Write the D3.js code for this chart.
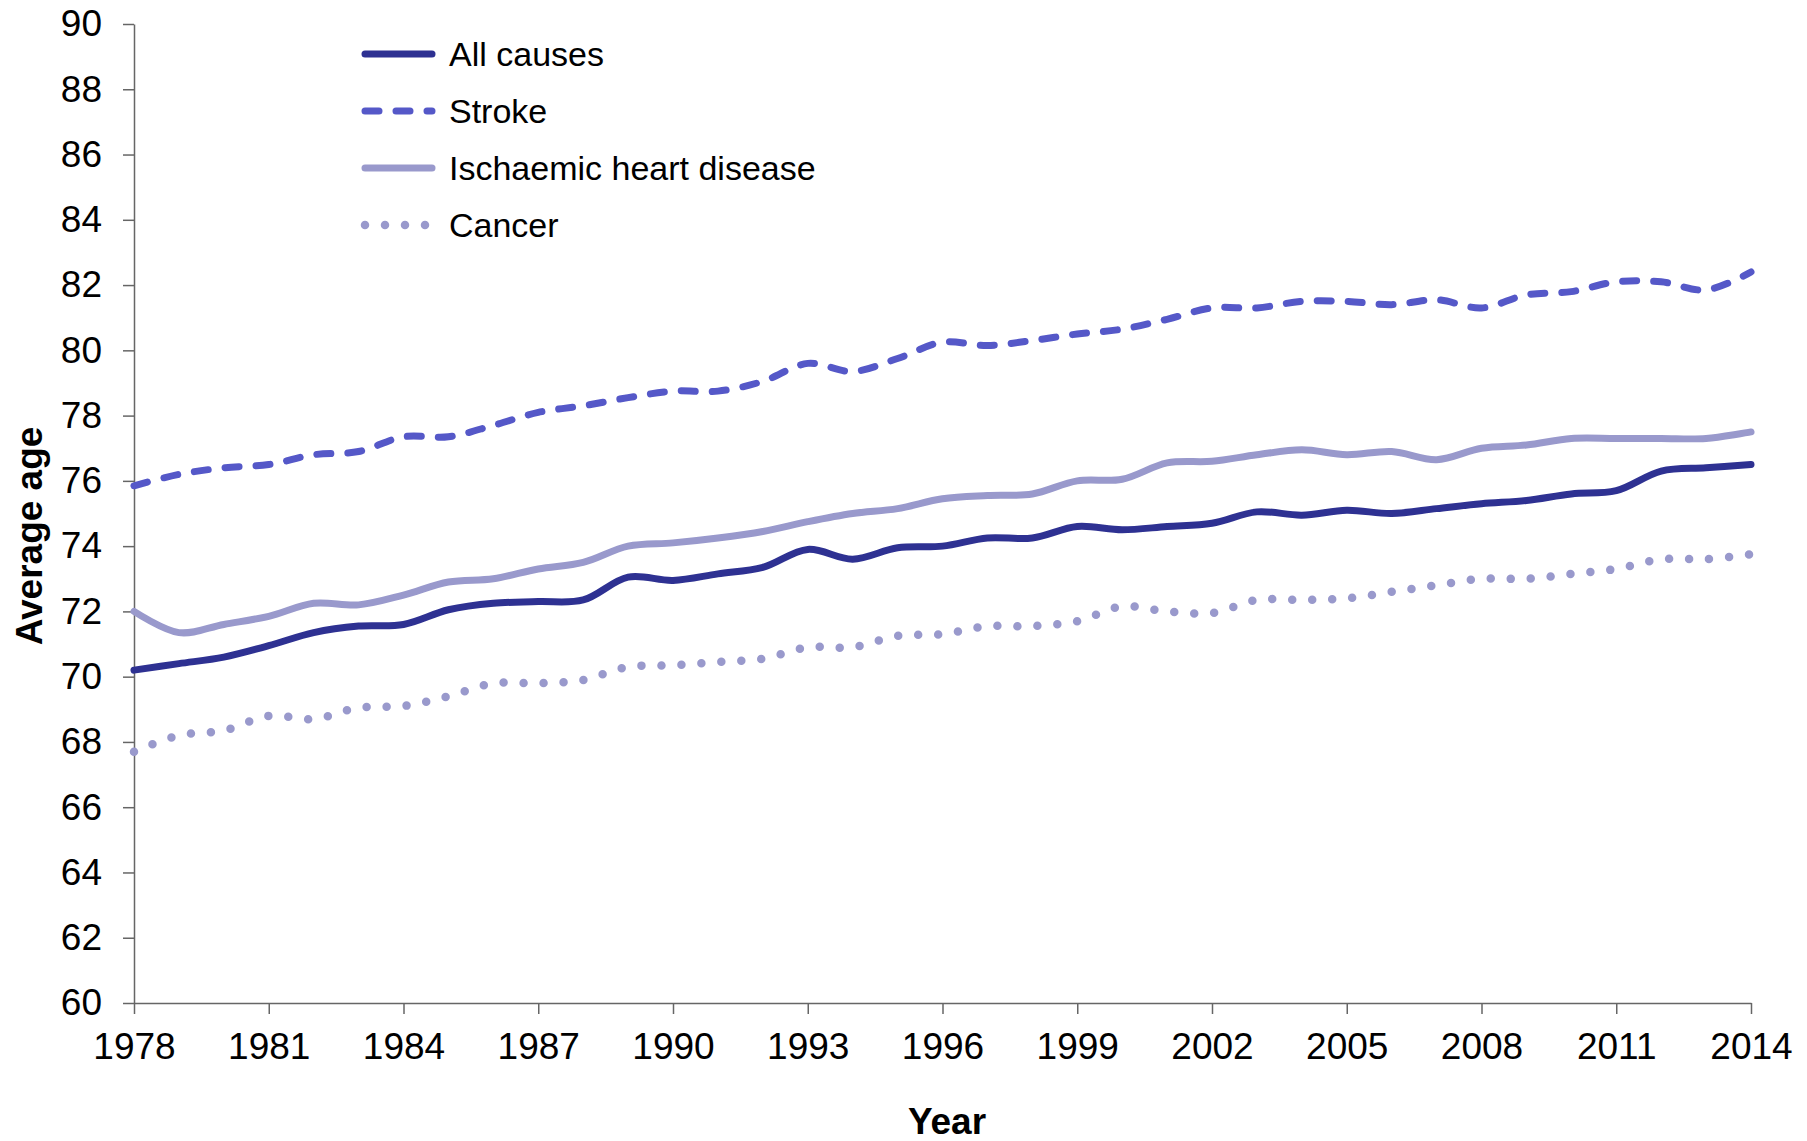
<!DOCTYPE html>
<html>
<head>
<meta charset="utf-8">
<script src="https://cdn.jsdelivr.net/npm/d3@7"></script>
<style>
  body { margin: 0; background: #fff; }
  svg text { font-family: "Liberation Sans", Arial, sans-serif; fill: #000; }
</style>
</head>
<body>
<svg id="chart" width="1807" height="1141"></svg>
<script>
// years on the x axis
var years = d3.range(1978, 2015);

// average age at death
var allCauses = [70.2, 70.4, 70.6, 70.95, 71.35, 71.55, 71.6, 72.05, 72.25, 72.3, 72.35, 73.05, 72.95, 73.15, 73.35, 73.9, 73.6, 73.95, 74.0, 74.25, 74.25, 74.6, 74.5, 74.6, 74.7, 75.05, 74.95, 75.1, 75.0, 75.15, 75.3, 75.4, 75.6, 75.7, 76.3, 76.4, 76.5];
var stroke = [75.85, 76.2, 76.4, 76.5, 76.8, 76.9, 77.35, 77.35, 77.7, 78.1, 78.3, 78.55, 78.75, 78.75, 79.05, 79.6, 79.35, 79.75, 80.25, 80.15, 80.3, 80.5, 80.65, 80.95, 81.3, 81.3, 81.5, 81.5, 81.4, 81.55, 81.3, 81.7, 81.8, 82.1, 82.1, 81.85, 82.4];
var ischaemic = [72.0, 71.35, 71.6, 71.85, 72.25, 72.2, 72.5, 72.9, 73.0, 73.3, 73.5, 74.0, 74.1, 74.25, 74.45, 74.75, 75.0, 75.15, 75.45, 75.55, 75.6, 76.0, 76.05, 76.55, 76.6, 76.8, 76.95, 76.8, 76.9, 76.65, 77.0, 77.1, 77.3, 77.3, 77.3, 77.3, 77.5];
var cancer = [67.7, 68.2, 68.35, 68.8, 68.7, 69.05, 69.1, 69.4, 69.8, 69.8, 69.9, 70.3, 70.35, 70.45, 70.55, 70.9, 70.9, 71.25, 71.3, 71.55, 71.55, 71.7, 72.15, 72.0, 71.95, 72.35, 72.35, 72.4, 72.6, 72.8, 73.0, 73.0, 73.15, 73.3, 73.6, 73.6, 73.75];

var xTicks = d3.range(1978, 2015, 3);
var yTicks = d3.range(60, 91, 2);

var seriesNames = ["All causes", "Stroke", "Ischaemic heart disease", "Cancer"];

var series = [
    { name: seriesNames[0], values: allCauses, color: "#2e3192", width: 7, dash: null },
    { name: seriesNames[1], values: stroke, color: "#5558c8", width: 7, dash: "14,17" },
    { name: seriesNames[2], values: ischaemic, color: "#9999cc", width: 7, dash: null },
    { name: seriesNames[3], values: cancer, color: "#9999cc", width: 8.5, dash: "0,20" }
];

var margin = { left: 134, top: 24, right: 56, bottom: 138 };
var width = 1807 - margin.left - margin.right,
    height = 1141 - margin.top - margin.bottom;

var svg = d3.select("#chart");
var g = svg.append("g").attr("transform", "translate(" + margin.left + "," + margin.top + ")");

var xScale = d3.scaleLinear().domain([1978, 2014]).range([0, width]);
var yScale = d3.scaleLinear().domain([60, 90]).range([height, 0]);

// axes
var xAxis = d3.axisBottom(xScale).tickValues(xTicks).tickFormat(d3.format("d"))
    .tickSizeInner(11).tickSizeOuter(0).tickPadding(19);
var yAxis = d3.axisLeft(yScale).tickValues(yTicks)
    .tickSizeInner(11).tickSizeOuter(0).tickPadding(21);

var gx = g.append("g").attr("transform", "translate(0," + height + ")").call(xAxis);
var gy = g.append("g").call(yAxis);

[gx, gy].forEach(function (a) {
    a.selectAll("path.domain").attr("stroke", "#666").attr("stroke-width", 1.5);
    a.selectAll(".tick line").attr("stroke", "#666").attr("stroke-width", 1.5);
    a.selectAll(".tick text").attr("font-size", 37).style("font-family", "Liberation Sans, Arial, sans-serif").attr("fill", "#000");
});

// lines (smoothed like the original)
var line = d3.line()
    .x(function (d, i) { return xScale(years[i]); })
    .y(function (d) { return yScale(d); })
    .curve(d3.curveCatmullRom.alpha(0.5));

g.selectAll("path.series")
    .data(series.slice().reverse())
    .enter().append("path")
    .attr("class", "series")
    .attr("d", function (d) { return line(d.values); })
    .attr("fill", "none")
    .attr("stroke", function (d) { return d.color; })
    .attr("stroke-width", function (d) { return d.width; })
    .attr("stroke-linecap", "round")
    .attr("stroke-linejoin", "round")
    .attr("stroke-dasharray", function (d) { return d.dash; });

// legend
var legend = svg.append("g").attr("transform", "translate(362,54)");
var item = legend.selectAll("g").data(series).enter().append("g")
    .attr("transform", function (d, i) { return "translate(0," + (i * 57) + ")"; });
item.append("line")
    .attr("x1", 3)
    .attr("x2", 70)
    .attr("stroke", function (d) { return d.color; })
    .attr("stroke-width", function (d) { return d.width; })
    .attr("stroke-linecap", "round")
    .attr("stroke-dasharray", function (d) { return d.dash; });
item.append("text")
    .attr("x", 87)
    .attr("dy", "0.35em")
    .attr("font-size", 34)
    .text(function (d) { return d.name; });

// axis titles
svg.append("text")
    .attr("x", 947).attr("y", 1134)
    .attr("text-anchor", "middle")
    .attr("font-size", 37).attr("font-weight", "bold")
    .text("Year");

svg.append("text")
    .attr("transform", "translate(42,536) rotate(-90)")
    .attr("text-anchor", "middle")
    .attr("font-size", 37).attr("font-weight", "bold")
    .text("Average age");
</script>
</body>
</html>
